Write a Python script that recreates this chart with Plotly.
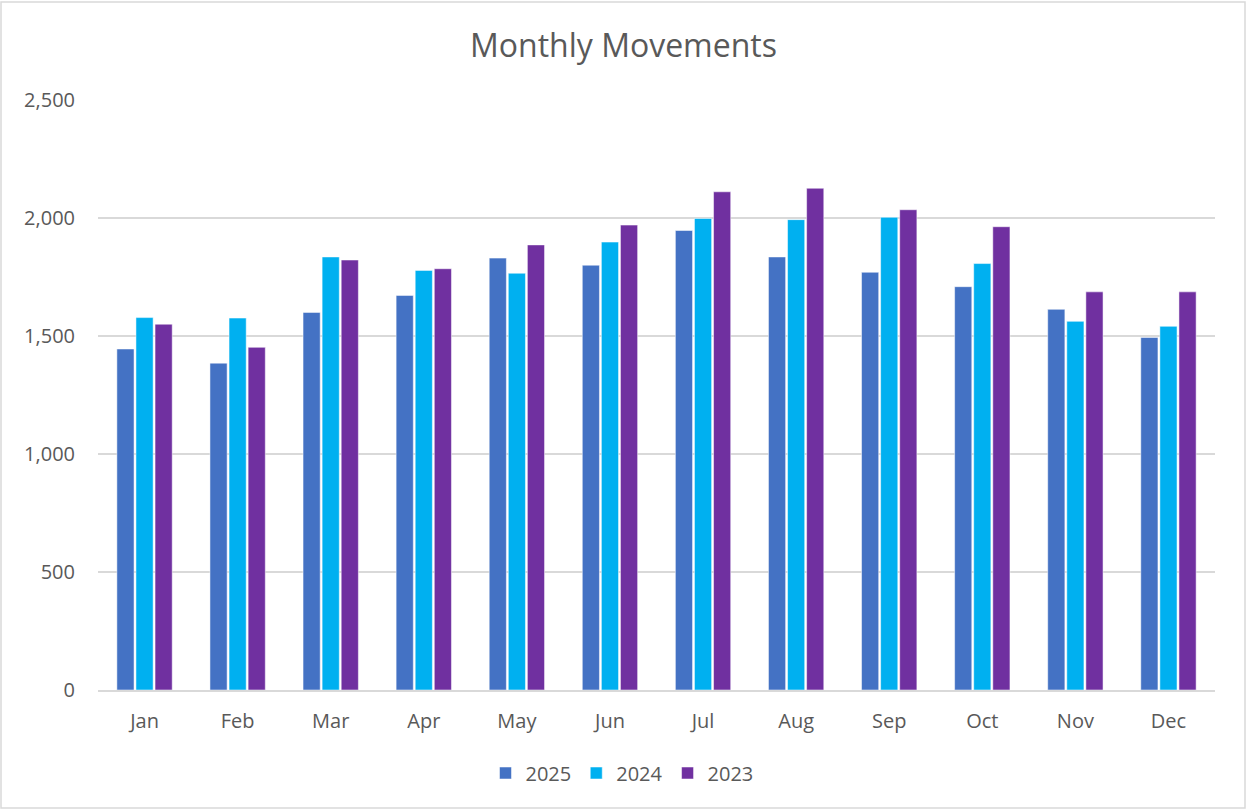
import plotly.graph_objects as go

months = ["Jan", "Feb", "Mar", "Apr", "May", "Jun", "Jul", "Aug", "Sep", "Oct", "Nov", "Dec"]
v2025 = [1445, 1385, 1600, 1672, 1830, 1800, 1947, 1835, 1770, 1709, 1613, 1494]
v2024 = [1578, 1576, 1835, 1778, 1766, 1898, 1998, 1993, 2003, 1807, 1562, 1541]
v2023 = [1550, 1452, 1822, 1785, 1886, 1970, 2111, 2126, 2035, 1963, 1687, 1687]
series_names = ["2025", "2024", "2023"]
colors = ["#4472C4", "#00B0F0", "#7030A0"]

W, H = 1247, 811
L, R, T, B = 98, 32, 100, 121
pw, ph = W - L - R, H - T - B

fig = go.Figure()
for name, vals, c in zip(series_names, [v2025, v2024, v2023], colors):
    fig.add_trace(go.Bar(x=months, y=vals, name=name,
                         marker=dict(color=c, line=dict(color="rgba(255,255,255,0.5)", width=1))))

def px_x(p):
    return (p - L) / pw

def px_y(p):
    return (H - B - p) / ph

fig.update_layout(
    width=W, height=H,
    margin=dict(l=L, r=R, t=T, b=B),
    paper_bgcolor="white", plot_bgcolor="white",
    barmode="group", bargap=0.385, bargroupgap=0.1,
    font=dict(family="Open Sans", color="#595959", size=20),
    title=dict(text="Monthly Movements", x=0.5, xanchor="center", y=1 - 46 / H, yanchor="middle",
               font=dict(size=32, color="#595959")),
    xaxis=dict(showgrid=False, showline=True, linecolor="#D9D9D9", linewidth=1.5, ticks="",
               ticklabelstandoff=12, tickfont=dict(size=20, color="#595959")),
    yaxis=dict(range=[0, 2500], tickvals=[0, 500, 1000, 1500, 2000, 2500], tickformat=",",
               showgrid=True, gridcolor="#D9D9D9", gridwidth=1.5, zeroline=False, showline=False,
               ticks="", ticklabelstandoff=22, tickfont=dict(size=20, color="#595959")),
    legend=dict(orientation="h", x=px_x(622), xanchor="center", y=px_y(773), yanchor="middle",
                font=dict(size=20, color="#595959"), itemwidth=30, traceorder="normal"),
    showlegend=True,
    shapes=[dict(type="rect", xref="paper", yref="paper", x0=px_x(1), x1=px_x(1245), y0=px_y(808), y1=px_y(2),
                 line=dict(color="#D9D9D9", width=1.5), fillcolor="rgba(0,0,0,0)", layer="below")],
)

fig.write_html("out.html", config={"displayModeBar": False})
with open("out.html", "r", encoding="utf-8") as f:
    html = f.read()
html = html.replace("<head>", "<head><style>html,body{margin:0;padding:0;}</style>", 1)
with open("out.html", "w", encoding="utf-8") as f:
    f.write(html)
